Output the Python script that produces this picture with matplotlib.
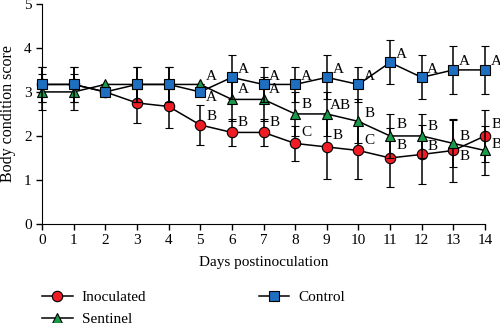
import matplotlib
matplotlib.use("Agg")
import matplotlib.pyplot as plt
from matplotlib.lines import Line2D

plt.rcParams['font.family'] = ['Liberation Serif', 'DejaVu Serif']

days = list(range(15))
inoculated = [3.17, 3.17, 3.0, 2.75, 2.67, 2.25, 2.08, 2.08, 1.83, 1.75, 1.67, 1.5, 1.58, 1.67, 2.0]
inoculated_err = [0.4, 0.4, 0.0, 0.45, 0.5, 0.45, 0.3, 0.3, 0.4, 0.73, 0.65, 0.67, 0.67, 0.72, 0.6]
sentinel = [3.0, 3.0, 3.17, 3.17, 3.17, 3.17, 2.83, 2.83, 2.5, 2.5, 2.33, 2.0, 2.0, 1.83, 1.67]
sentinel_err = [0.4, 0.4, 0.0, 0.4, 0.4, 0.0, 0.5, 0.5, 0.5, 0.5, 0.5, 0.5, 0.5, 0.53, 0.55]
control = [3.17, 3.17, 3.0, 3.17, 3.17, 3.0, 3.33, 3.17, 3.17, 3.33, 3.17, 3.67, 3.33, 3.5, 3.5]
control_err = [0.4, 0.4, 0.0, 0.4, 0.4, 0.0, 0.5, 0.4, 0.4, 0.5, 0.4, 0.5, 0.5, 0.55, 0.55]

letter_days = [5, 6, 7, 8, 9, 10, 11, 12, 13, 14]
control_letters = ['A'] * 10
sentinel_letters = ['A', 'A', 'A', 'B', 'AB', 'B', 'B', 'B', 'B', 'B']
inoculated_letters = ['B', 'B', 'B', 'C', 'B', 'C', 'B', 'B', 'B', 'B']

RED = '#ee1c24'
GREEN = '#1a9a4a'
BLUE = '#1f6fc0'

fig = plt.figure(figsize=(5.0, 3.23), dpi=100)
ax = fig.add_axes([0.084, 0.3065, 0.886, 0.6815])

common = dict(color='black', lw=1.1, ecolor='black', elinewidth=1.1, capsize=2.8,
              capthick=1.1, markeredgecolor='black', markeredgewidth=0.8, clip_on=False)
ax.errorbar(days, inoculated, yerr=inoculated_err, marker='o', markersize=7.5,
            markerfacecolor=RED, zorder=3, **common)
ax.errorbar(days, sentinel, yerr=sentinel_err, marker='^', markersize=7,
            markerfacecolor=GREEN, zorder=4, **common)
ax.errorbar(days, control, yerr=control_err, marker='s', markersize=7,
            markerfacecolor=BLUE, zorder=5, **common)

# letter offsets in points (dx, dy)
def annotate(vals, letters, offsets):
    for d, l, off in zip(letter_days, letters, offsets):
        ax.annotate(l, (d, vals[d]), xytext=off, textcoords='offset points',
                    ha='center', va='center', fontsize=11, annotation_clip=False)

ctrl_off = [(8, -4)] + [(8, 6)] * 9
sent_off = [(8, 6), (8, 7), (8, 7), (8, 7), (10, 6), (8, 6), (8, 8), (8, 7), (8, 5), (8, 4)]
inoc_off = [(8, 6), (8, 7), (8, 7), (8, 8), (8, 8), (8, 7), (8, 9), (8, 6), (8, -4), (8, 8)]
annotate(control, control_letters, ctrl_off)
annotate(sentinel, sentinel_letters, sent_off)
annotate(inoculated, inoculated_letters, inoc_off)

ax.set_xlim(0, 14)
ax.set_ylim(0, 5)
ax.set_xticks(days)
ax.set_yticks([0, 1, 2, 3, 4, 5])
ax.spines['top'].set_visible(False)
ax.spines['right'].set_visible(False)
ax.tick_params(direction='out', length=4, width=1, labelsize=11)
ax.set_xlabel('Days postinoculation', fontsize=11, labelpad=6)
ax.set_ylabel('Body condition score', fontsize=11.5, labelpad=6)

handles = [
    Line2D([], [], color='black', lw=1.1, marker='o', markersize=7.5, markerfacecolor=RED, markeredgecolor='black', markeredgewidth=0.8),
    Line2D([], [], color='black', lw=1.1, marker='^', markersize=7, markerfacecolor=GREEN, markeredgecolor='black', markeredgewidth=0.8),
    Line2D([], [], color='black', lw=1.1, marker='s', markersize=7, markerfacecolor=BLUE, markeredgecolor='black', markeredgewidth=0.8),
]
fig.legend(handles, ['Inoculated', 'Sentinel', 'Control'], ncol=2, frameon=False,
           loc='upper left', bbox_to_anchor=(0.084, 0.101), fontsize=11,
           handlelength=2.0, handletextpad=0.6, columnspacing=7.35, labelspacing=0.55,
           borderaxespad=0, borderpad=0)

fig.savefig('out.png', dpi=100)
